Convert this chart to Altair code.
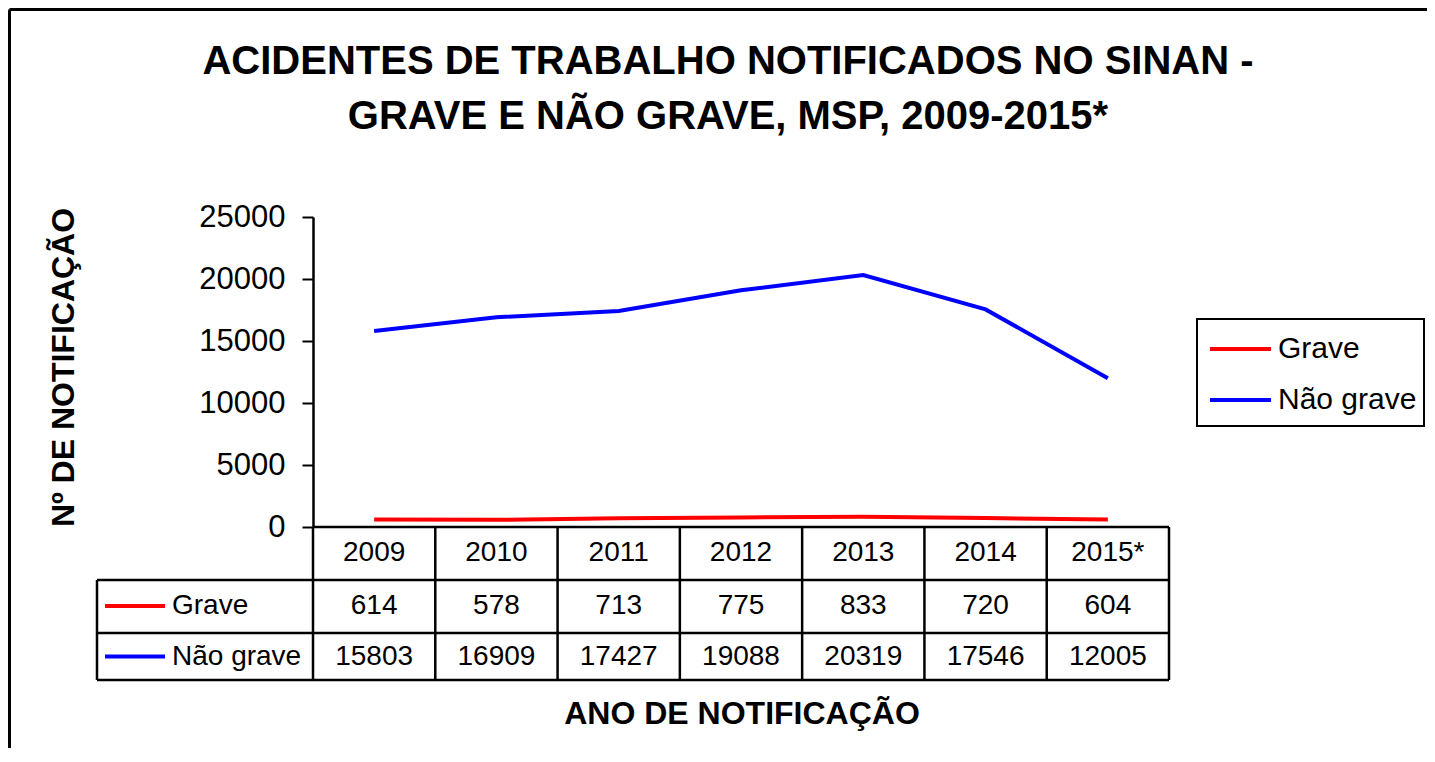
import altair as alt
import pandas as pd

# ---- data ----
years = ["2009", "2010", "2011", "2012", "2013", "2014", "2015*"]
grave = [614, 578, 713, 775, 833, 720, 604]
nao_grave = [15803, 16909, 17427, 19088, 20319, 17546, 12005]
series = ["Grave", "Não grave"]
colors = ["#FF0000", "#0000FF"]
y_ticks = [0, 5000, 10000, 15000, 20000, 25000]

rows = []
for s, vals in zip(series, [grave, nao_grave]):
    for y, v in zip(years, vals):
        rows.append({"ano": y, "serie": s, "valor": v})
df = pd.DataFrame(rows)
df_years = pd.DataFrame({"ano": years})
df_series = pd.DataFrame({"serie": series})
one = pd.DataFrame({"k": [0]})

# ---- layout (pixels) ----
W, H = 856, 310
PL, PT = 305, 209
TOTAL_W, TOTAL_H = 1419, 740
FONT = "Liberation Sans"
STEP = W / len(years)

x_enc = alt.X("ano:N", sort=years,
              scale=alt.Scale(type="point", padding=0.5, domain=years),
              axis=None)
color_enc = alt.Color("serie:N", scale=alt.Scale(domain=series, range=colors), legend=None)
row_scale = alt.Scale(type="point", domain=series, range=[389, 439.5], padding=0)
leg_scale = alt.Scale(type="point", domain=series, range=[132, 183], padding=0)

lines = alt.Chart(df).mark_line(strokeWidth=4).encode(
    x=x_enc,
    y=alt.Y("valor:Q", scale=alt.Scale(domain=[0, 25000], nice=False),
            axis=alt.Axis(values=y_ticks, format="d", title=None, grid=False, labelFontSize=31,
                          labelFont=FONT, labelColor="black", tickSize=11, tickWidth=2,
                          tickColor="black", domainColor="black", domainWidth=2.5,
                          labelPadding=17)),
    color=color_enc,
)

def rule(x, x2, y, y2, w=2.5):
    return alt.Chart(one).mark_rule(color="black", strokeWidth=w).encode(
        x=alt.value(x), x2=alt.value(x2), y=alt.value(y), y2=alt.value(y2))

def label(text, x, y, size, bold=False, angle=0, align="center"):
    return alt.Chart(one).mark_text(text=text, font=FONT, fontSize=size,
                                    fontWeight="bold" if bold else "normal",
                                    angle=angle, align=align, baseline="middle",
                                    color="black").encode(x=alt.value(x), y=alt.value(y))

# frame
frame = [rule(-303.5, W + 300, -207.5, -207.5, 3), rule(-303.5, -303.5, -207.5, H + 240, 3)]

# titles
titles = [
    label("ACIDENTES DE TRABALHO NOTIFICADOS NO SINAN -", 415, -155, 40, True),
    label("GRAVE E NÃO GRAVE, MSP, 2009-2015*", 415, -100, 40, True),
    label("Nº DE NOTIFICAÇÃO", -249.5, 150.5, 32, True, angle=270),
    label("ANO DE NOTIFICAÇÃO", 429, 497, 32, True),
]

# table grid
grid = [
    rule(0, W, H, H),
    rule(-216, W, 363, 363),
    rule(-216, W, 416, 416),
    rule(-216, W, 463, 463),
    rule(-216, -216, 363, 463),
    rule(W, W, H, 463),
]
vlines = alt.Chart(df_years).mark_rule(color="black", strokeWidth=2.5, xOffset=-STEP / 2).encode(
    x=x_enc, y=alt.value(H), y2=alt.value(463))

year_text = alt.Chart(df_years).mark_text(font=FONT, fontSize=28, baseline="middle",
                                          color="black").encode(
    x=x_enc, y=alt.value(336), text="ano:N")

val_text = alt.Chart(df).mark_text(font=FONT, fontSize=28, baseline="middle",
                                   color="black").encode(
    x=x_enc, y=alt.Y("serie:N", scale=row_scale, axis=None), text="valor:Q")

row_lines = alt.Chart(df_series).mark_rule(strokeWidth=4).encode(
    x=alt.value(-208), x2=alt.value(-148),
    y=alt.Y("serie:N", scale=row_scale, axis=None), color=color_enc)
row_text = alt.Chart(df_series).mark_text(font=FONT, fontSize=28, align="left",
                                          baseline="middle", color="black").encode(
    x=alt.value(-141), y=alt.Y("serie:N", scale=row_scale, axis=None), text="serie:N")

# legend
leg_box = alt.Chart(one).mark_rect(fill="white", stroke="black", strokeWidth=2).encode(
    x=alt.value(884), x2=alt.value(1111), y=alt.value(102), y2=alt.value(209))
leg_lines = alt.Chart(df_series).mark_rule(strokeWidth=4).encode(
    x=alt.value(897), x2=alt.value(958),
    y=alt.Y("serie:N", scale=leg_scale, axis=None), color=color_enc)
leg_text = alt.Chart(df_series).mark_text(font=FONT, fontSize=30, align="left",
                                          baseline="middle", color="black").encode(
    x=alt.value(965), y=alt.Y("serie:N", scale=leg_scale, axis=None), text="serie:N")

chart = alt.layer(
    *frame, *titles, *grid, vlines, year_text, val_text, row_lines, row_text,
    leg_box, leg_lines, leg_text, lines,
).resolve_scale(y="independent").properties(
    width=W, height=H,
    autosize=alt.AutoSizeParams(type="none"),
    padding={"left": PL, "top": PT, "right": TOTAL_W - PL - W, "bottom": TOTAL_H - PT - H},
    background="white",
).configure_view(stroke=None)

chart.save("out.html", embed_options={"renderer": "svg", "actions": False})
